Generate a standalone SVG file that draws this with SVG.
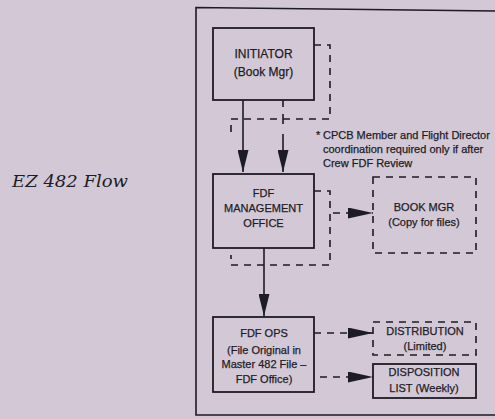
<svg xmlns="http://www.w3.org/2000/svg" width="495" height="419" viewBox="0 0 495 419">
  <defs>
    <style>
      .bg { fill: #d3c9d6; }
      .box { fill: none; stroke: #1d1b25; stroke-width: 1.8; }
      .dbox { fill: none; stroke: #1d1b25; stroke-width: 1.6; stroke-dasharray: 7 6; }
      .line { fill: none; stroke: #1d1b25; stroke-width: 1.6; }
      .dline { fill: none; stroke: #1d1b25; stroke-width: 1.6; stroke-dasharray: 7 6; }
      .t { font-family: "Liberation Sans", Arial, sans-serif; font-size: 11px; fill: #1e1c27; stroke: #1e1c27; stroke-width: 0.25; text-anchor: middle; }
      .note { font-family: "Liberation Sans", Arial, sans-serif; font-size: 11px; fill: #1e1c27; stroke: #1e1c27; stroke-width: 0.25; }
      .title { font-family: "DejaVu Serif", "Liberation Serif", serif; font-style: italic; font-size: 17.5px; fill: #1e1c27; }
    </style>
    <marker id="arrow" markerUnits="userSpaceOnUse" viewBox="0 0 25 11" refX="25" refY="5.5" markerWidth="25" markerHeight="11" orient="auto">
      <path d="M0,0 L25,5.5 L0,11 Z" fill="#1d1b25"/>
    </marker>
    <marker id="arrowV" markerUnits="userSpaceOnUse" viewBox="0 0 22 11" refX="22" refY="5.5" markerWidth="22" markerHeight="11" orient="auto">
      <path d="M0,0 L22,5.5 L0,11 Z" fill="#1d1b25"/>
    </marker>
  </defs>

  <rect class="bg" x="0" y="0" width="495" height="419"/>

  <text class="title" x="12" y="187" textLength="116" lengthAdjust="spacingAndGlyphs">EZ 482 Flow</text>

  <path class="line" d="M496,11 L196,7.5 L196,415 L496,415" stroke-width="2"/>

  <g id="connectors">
    <!-- INITIATOR -> FDF MANAGEMENT OFFICE -->
    <line class="line" x1="243" y1="100" x2="243" y2="172" marker-end="url(#arrowV)"/>
    <line class="line" x1="283" y1="100" x2="283" y2="107"/>
    <line class="line" x1="283" y1="114" x2="283" y2="124"/>
    <line class="line" x1="283" y1="134" x2="283" y2="172" marker-end="url(#arrowV)"/>
    <!-- coordination dashed loop -->
    <path class="dline" d="M314,45 H330 V119 H231 V134"/>
    <!-- dashed loop around FDF MANAGEMENT OFFICE -->
    <path class="dline" d="M314,191 H330 V265 H231 V255"/>
    <!-- FDF MGMT -> BOOK MGR -->
    <line class="dline" x1="333" y1="213" x2="373" y2="213" marker-end="url(#arrow)"/>
    <!-- FDF MGMT -> FDF OPS -->
    <line class="line" x1="264" y1="248" x2="264" y2="316" marker-end="url(#arrowV)"/>
    <!-- FDF OPS -> DISTRIBUTION -->
    <line class="dline" x1="314" y1="333" x2="373" y2="333" marker-end="url(#arrow)"/>
    <!-- FDF OPS -> DISPOSITION LIST -->
    <line class="dline" x1="320" y1="377" x2="373" y2="377" marker-end="url(#arrow)"/>
  </g>

  <g id="initiator">
    <rect class="box" x="213" y="28" width="101" height="72"/>
    <text class="t" x="263.5" y="57.5" style="font-size:12px">INITIATOR</text>
    <text class="t" x="263.5" y="76" style="font-size:12px">(Book Mgr)</text>
  </g>

  <g id="note">
    <text class="note" x="316" y="139">*</text>
    <text class="note" x="323" y="139">CPCB Member and Flight Director</text>
    <text class="note" x="323" y="153">coordination required only if after</text>
    <text class="note" x="323" y="167">Crew FDF Review</text>
  </g>

  <g id="fdf-management-office">
    <rect class="box" x="213" y="174" width="101" height="74"/>
    <text class="t" x="263.5" y="197">FDF</text>
    <text class="t" x="263.5" y="212">MANAGEMENT</text>
    <text class="t" x="263.5" y="227">OFFICE</text>
  </g>

  <g id="book-mgr">
    <rect class="dbox" x="373" y="177" width="103" height="76"/>
    <text class="t" x="424" y="210.5">BOOK MGR</text>
    <text class="t" x="424" y="225.5">(Copy for files)</text>
  </g>

  <g id="fdf-ops">
    <rect class="box" x="213" y="317" width="101" height="75"/>
    <text class="t" x="264" y="337">FDF OPS</text>
    <text class="t" x="264" y="354">(File Original in</text>
    <text class="t" x="264" y="368">Master 482 File –</text>
    <text class="t" x="264" y="383">FDF Office)</text>
  </g>

  <g id="distribution">
    <rect class="dbox" x="373" y="322" width="103" height="33"/>
    <text class="t" x="425" y="335">DISTRIBUTION</text>
    <text class="t" x="425" y="350">(Limited)</text>
  </g>

  <g id="disposition-list">
    <rect class="box" x="373" y="364" width="103" height="34"/>
    <text class="t" x="424" y="376">DISPOSITION</text>
    <text class="t" x="424" y="392">LIST (Weekly)</text>
  </g>
</svg>
